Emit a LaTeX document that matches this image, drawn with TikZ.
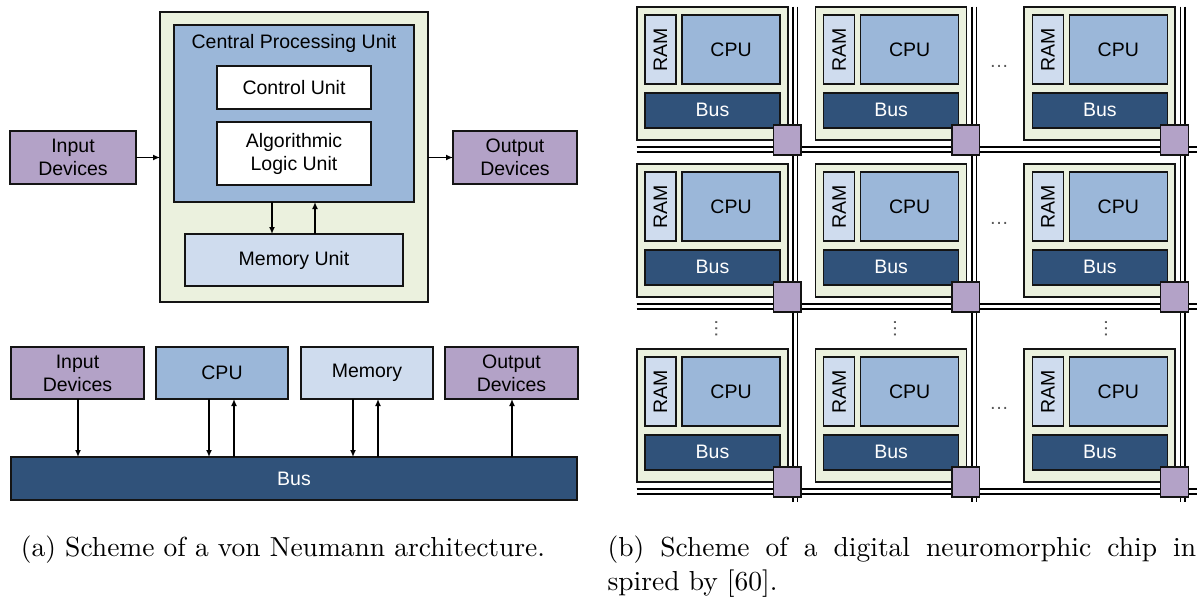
\documentclass[tikz,border=0pt]{standalone}
\usepackage{fontspec}
\newfontfamily\arial{Liberation Sans}
\usetikzlibrary{arrows.meta}
\definecolor{bggreen}{HTML}{EBF1DE}
\definecolor{cpublue}{HTML}{9BB7D9}
\definecolor{memblue}{HTML}{CFDCEE}
\definecolor{busblue}{HTML}{30527A}
\definecolor{purp}{HTML}{B3A2C7}
\definecolor{edge}{HTML}{141414}
\begin{document}
\begin{tikzpicture}[x=1pt,y=-1pt,
  box/.style={draw=edge,line width=1.6pt,inner sep=0pt,outer sep=0pt,anchor=north west,
    font=\arial\fontsize{19.5}{23}\selectfont,align=center},
  lbl/.style={inner sep=0pt,font=\arial\fontsize{19.5}{23}\selectfont},
  arr/.style={line width=1.4pt,-{Latex[length=7pt,width=6pt]}},
  wire/.style={line width=1.5pt,draw=black},
  dots/.style={inner sep=0pt,text=black!65,font=\arial\fontsize{19.5}{23}\selectfont},
  captxt/.style={inner sep=0pt,scale=2.75}]
\useasboundingbox (0,0) rectangle (1197,598);

% ---------- (a) top: von Neumann ----------
\node[box,fill=bggreen,minimum width=268pt,minimum height=290pt] (outer) at (160,12) {};
\node[box,fill=cpublue,minimum width=240pt,minimum height=177pt] (cpu) at (174,25) {};
\node[lbl] (cputitle) at (294,43) {Central Processing Unit};
\node[box,fill=white,minimum width=154pt,minimum height=43pt] (cu) at (217,66) {Control Unit};
\node[box,fill=white,minimum width=154pt,minimum height=63pt] (alu) at (217,122) {Algorithmic\\Logic Unit};
\node[box,fill=memblue,minimum width=218pt,minimum height=52pt] (mu) at (185,234) {Memory Unit};
\node[box,fill=purp,minimum width=126pt,minimum height=53pt] (in) at (10,131) {Input\\Devices};
\node[box,fill=purp,minimum width=124pt,minimum height=53pt] (out) at (453,131) {Output\\Devices};
\draw[arr] (in.east) -- (in.east -| outer.west);
\draw[arr] (out.west -| outer.east) -- (out.west);
\draw[arr] (272,0 |- cpu.south) -- (272,0 |- mu.north);
\draw[arr] (315,0 |- mu.north) -- (315,0 |- cpu.south);

% ---------- (a) bottom: bus ----------
\node[box,fill=purp,minimum width=133pt,minimum height=52pt] (in2) at (11,347) {Input\\Devices};
\node[box,fill=cpublue,minimum width=132pt,minimum height=52pt] (cpu2) at (156,347) {CPU};
\node[box,fill=memblue,minimum width=132pt,minimum height=52pt] (mem2) at (301,347) {Memory};
\node[box,fill=purp,minimum width=133pt,minimum height=52pt] (out2) at (445,347) {Output\\Devices};
\node[box,fill=busblue,text=white,minimum width=566pt,minimum height=43pt] (bus2) at (11,457) {Bus};
\draw[arr] (78,0 |- in2.south) -- (78,0 |- bus2.north);
\draw[arr] (209,0 |- cpu2.south) -- (209,0 |- bus2.north);
\draw[arr] (234,0 |- bus2.north) -- (234,0 |- cpu2.south);
\draw[arr] (353,0 |- mem2.south) -- (353,0 |- bus2.north);
\draw[arr] (378,0 |- bus2.north) -- (378,0 |- mem2.south);
\draw[arr] (512,0 |- bus2.north) -- (512,0 |- out2.south);

% ---------- (b) neuromorphic grid ----------
\foreach \X in {636.7,815.3,1024}{
  \draw[wire] ({\X+156.5},6.7) -- ({\X+156.5},502);
  \draw[wire] ({\X+161},6.7) -- ({\X+161},502);
}
\foreach \Y in {6.7,163.7,348.7}{
  \draw[wire] (636.7,{\Y+140.5}) -- (1197,{\Y+140.5});
  \draw[wire] (636.7,{\Y+145.5}) -- (1197,{\Y+145.5});
}
\foreach \c/\X in {1/636.7,2/815.3,3/1024}{
  \foreach \r/\Y in {1/6.7,2/163.7,3/348.7}{
    \node[box,fill=bggreen,minimum width=151pt,minimum height=133.3pt] (g\c\r) at (\X,\Y) {};
    \node[box,fill=memblue,minimum width=31pt,minimum height=69pt] (ram\c\r) at ({\X+8.3},{\Y+8.3}) {};
    \node[lbl,rotate=90] (ramt\c\r) at (ram\c\r.center) {RAM};
    \node[box,fill=cpublue,minimum width=98pt,minimum height=69pt] (cpu\c\r) at ({\X+45.3},{\Y+8.3}) {CPU};
    \node[box,fill=busblue,text=white,minimum width=135pt,minimum height=35pt] (bus\c\r) at ({\X+8.3},{\Y+86}) {Bus};
    \node[box,fill=purp,minimum width=27.7pt,minimum height=30pt] (rt\c\r) at ({\X+136.6},{\Y+118.3}) {};
  }
}
\node[dots] (hd1) at (999,66.7) {…};
\node[dots] (hd2) at (999,223.7) {…};
\node[dots] (hd3) at (999,408.7) {…};
\node[dots,rotate=90] (vd1) at (716.3,328.7) {…};
\node[dots,rotate=90] (vd2) at (895,328.7) {…};
\node[dots,rotate=90] (vd3) at (1106,328.7) {…};

% ---------- captions ----------
\node[captxt,anchor=base] (capa) at (283,556) {(a) Scheme of a von Neumann architecture.};
\node[captxt,anchor=base west] (capb1) at (607,556) {\makebox[214pt][s]{(b) Scheme of a digital neuromorphic chip in}};
\node[captxt,anchor=base west] (capb2) at (607,590) {spired by [60].};
\end{tikzpicture}
\end{document}
